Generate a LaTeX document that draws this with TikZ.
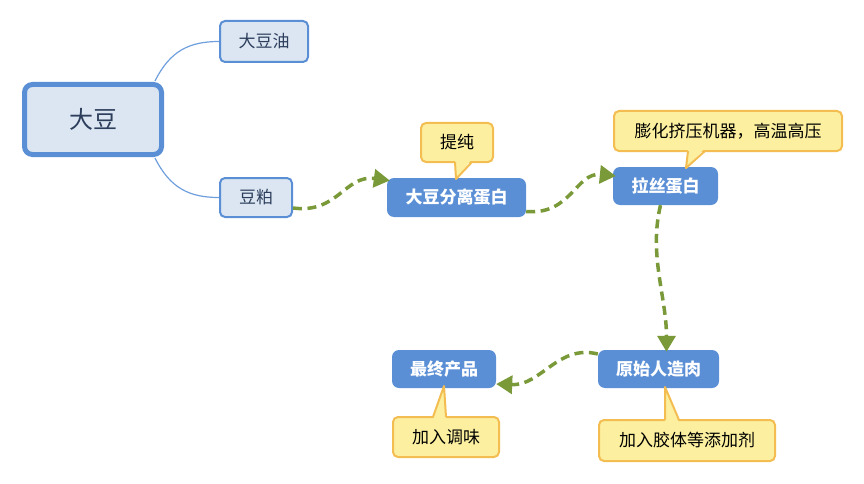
\documentclass[tikz,border=0pt]{standalone}
\usepackage{fontspec}
\setmainfont{Noto Sans CJK SC}
\usetikzlibrary{arrows.meta,calc}
\definecolor{topicblue}{HTML}{5A8FD6}
\definecolor{lightfill}{HTML}{DCE6F2}
\definecolor{darktext}{HTML}{2C3E5C}
\definecolor{branchline}{HTML}{6F9FDD}
\definecolor{flowgreen}{HTML}{7A9A3A}
\definecolor{notefill}{HTML}{FCF0A0}
\definecolor{noteborder}{HTML}{F3BD52}
\tikzset{
  rootbox/.style={draw=topicblue, line width=5pt, fill=lightfill, rounded corners=8pt,
    minimum width=137pt, minimum height=70pt, inner sep=0pt, text=darktext,
    font=\fontsize{24}{28}\selectfont},
  leafbox/.style={draw=topicblue, line width=2pt, fill=lightfill, rounded corners=5pt,
    minimum height=39pt, inner sep=0pt, text=darktext,
    font=\fontsize{17}{20}\selectfont},
  stepbox/.style={fill=topicblue, rounded corners=7pt, minimum height=38pt, inner sep=0pt,
    text=white, font=\fontsize{17}{20}\selectfont\bfseries},
  notebox/.style={draw=noteborder, line width=2pt, fill=notefill, rounded corners=5pt,
    minimum height=39pt, inner sep=0pt, text=black,
    font=\fontsize{17}{20}\selectfont},
  notetail/.style={fill=notefill},
  notetailedge/.style={draw=noteborder, line width=2pt, line join=round},
  branch/.style={draw=branchline, line width=1.2pt},
  flow/.style={draw=flowgreen, line width=3.5pt, dash pattern=on 9pt off 5.5pt,
    -{Triangle[length=16pt,width=18pt]}}
}
\begin{document}
\begin{tikzpicture}[x=1pt,y=-1pt]
\useasboundingbox (0,0) rectangle (864,484);
% tree part
\node[rootbox] (root) at (93,119.5) {大豆};
\node[leafbox, minimum width=88pt, minimum height=41pt] (oil) at (264,41.5) {大豆油};
\node[leafbox, minimum width=72pt] (meal) at (256,197.5) {豆粕};
\draw[branch] ($(root.north east)+(-9,-1)$) .. controls +(15,-30) and ($(oil.west)+(-30,0)$) .. (oil.west);
\draw[branch] ($(root.south east)+(-9,1)$) .. controls +(15,30) and ($(meal.west)+(-30,0)$) .. (meal.west);
% process steps
\node[stepbox, minimum width=139pt, minimum height=39pt] (spi) at (456.5,197.5) {大豆分离蛋白};
\node[stepbox, minimum width=105pt] (tvp) at (665.5,186) {拉丝蛋白};
\node[stepbox, minimum width=121pt] (meat) at (658.5,369) {原始人造肉};
\node[stepbox, minimum width=104pt] (final) at (444,369) {最终产品};
% notes
\node[notebox, minimum width=72pt] (n1) at (457,142.5) {提纯};
\node[notebox, minimum width=228pt, minimum height=40pt] (n2) at (728,131) {膨化挤压机器，高温高压};
\node[notebox, minimum width=106pt, minimum height=40pt] (n3) at (446,437) {加入调味};
\node[notebox, minimum width=176pt, minimum height=41pt] (n4) at (687,440.5) {加入胶体等添加剂};
% note tails
\coordinate (t1a) at ($(n1.south)+(-2,-1)$);
\coordinate (t1b) at ($(n1.south)+(15,-1)$);
\coordinate (t1tip) at ($(n1.south)+(-1,16)$);
\fill[notetail] ($(t1a)+(0,-3)$) -- ($(t1b)+(0,-3)$) -- (t1tip) -- cycle;
\draw[notetailedge] (t1a) -- (t1tip) -- (t1b);
\coordinate (t2a) at ($(n2.south)+(-40,-1)$);
\coordinate (t2b) at ($(n2.south)+(-23,-1)$);
\coordinate (t2tip) at ($(n2.south)+(-42,16)$);
\fill[notetail] ($(t2a)+(0,-3)$) -- ($(t2b)+(0,-3)$) -- (t2tip) -- cycle;
\draw[notetailedge] (t2a) -- (t2tip) -- (t2b);
\coordinate (t3a) at ($(n3.north)+(-13,1)$);
\coordinate (t3b) at ($(n3.north)+(0,1)$);
\coordinate (t3tip) at ($(n3.north)+(-2,-30)$);
\fill[notetail] ($(t3a)+(0,3)$) -- ($(t3b)+(0,3)$) -- (t3tip) -- cycle;
\draw[notetailedge] (t3a) -- (t3tip) -- (t3b);
\coordinate (t4a) at ($(n4.north)+(-22,1)$);
\coordinate (t4b) at ($(n4.north)+(-8,1)$);
\coordinate (t4tip) at ($(n4.north)+(-22,-32)$);
\fill[notetail] ($(t4a)+(0,3)$) -- ($(t4b)+(0,3)$) -- (t4tip) -- cycle;
\draw[notetailedge] (t4a) -- (t4tip) -- (t4b);
% flow arrows
\coordinate (f1s) at ($(meal.east)+(0,10.5)$);
\coordinate (f1e) at ($(spi.west)+(3,-17)$);
\draw[flow] (f1s) .. controls +(45,6) and +(-45,-6) .. (f1e);
\coordinate (f2s) at ($(spi.east)+(0,14)$);
\coordinate (f2e) at ($(tvp.west)+(3,-10)$);
\draw[flow] (f2s) .. controls +(45,4) and +(-40,-4) .. (f2e);
\coordinate (f3s) at ($(tvp.south)+(-5,0)$);
\coordinate (f3e) at ($(meat.north)+(8,2)$);
\draw[flow] (f3s) .. controls +(-12,50) and +(0,-55) .. (f3e);
\coordinate (f4s) at ($(meat.west)+(0,-15)$);
\coordinate (f4e) at ($(final.east)+(0,15)$);
\draw[flow] (f4s) .. controls +(-40,-10) and +(45,2) .. (f4e);
\end{tikzpicture}
\end{document}
